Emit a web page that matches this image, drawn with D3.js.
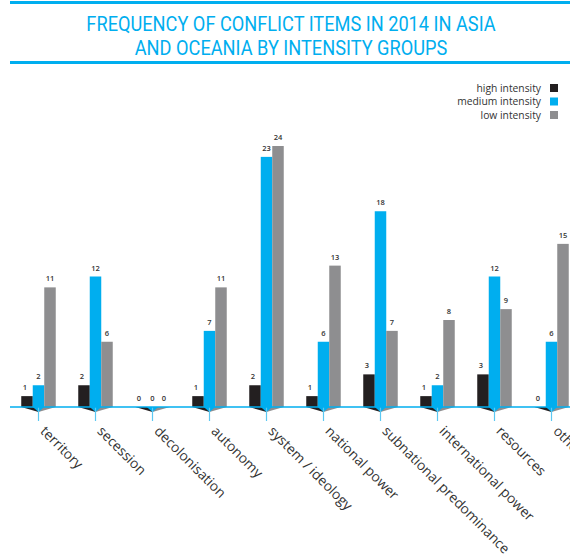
<!DOCTYPE html>
<html>
<head>
<meta charset="utf-8">
<script src="https://cdn.jsdelivr.net/npm/d3@7"></script>
<style>
  html, body { margin: 0; padding: 0; background: #fff; }
  svg { display: block; }
</style>
</head>
<body>
<svg id="chart" width="570" height="557"></svg>
<script>
// Conflict items in Asia and Oceania, 2014, by intensity group
const categories = ["territory", "secession", "decolonisation", "autonomy", "system / ideology",
  "national power", "subnational predominance", "international power", "resources", "others"];
const highIntensity   = [1, 2, 0, 1, 2, 1, 3, 1, 3, 0];
const mediumIntensity = [2, 12, 0, 7, 23, 6, 18, 2, 12, 6];
const lowIntensity    = [11, 6, 0, 11, 24, 13, 7, 8, 9, 15];
const seriesNames = ["high intensity", "medium intensity", "low intensity"];
const seriesColors = ["#231f20", "#00aeef", "#8e8e90"];
const titleLines = ["FREQUENCY OF CONFLICT ITEMS IN 2014 IN ASIA", "AND OCEANIA BY INTENSITY GROUPS"];

const series = [highIntensity, mediumIntensity, lowIntensity];
const svg = d3.select("#chart");
const blue = "#00aeef";

// Title block with rules above and below
svg.append("rect").attr("x", 10).attr("y", 1).attr("width", 560).attr("height", 3).attr("fill", blue);
svg.append("rect").attr("x", 10).attr("y", 61).attr("width", 560).attr("height", 3).attr("fill", blue);
svg.selectAll("text.title").data(titleLines).join("text")
  .attr("class", "title")
  .attr("transform", (d, i) => `translate(291,${31 + i * 24}) scale(0.91,1)`)
  .attr("text-anchor", "middle")
  .attr("font-family", "Roboto, 'Open Sans', sans-serif")
  .attr("font-size", 20)
  .attr("fill", blue)
  .text(d => d);

// Scales
const baseY = 407;
const x = d3.scaleBand().domain(categories).range([10, 580]).paddingInner(0).paddingOuter(0);
const xs = d3.scaleBand().domain(d3.range(3)).range([0, 34.5]);
const y = d3.scaleLinear().domain([0, 24]).range([baseY, 146]);

const groupOffset = (x.bandwidth() - xs.range()[1]) / 2;
const groups = svg.selectAll("g.grp").data(categories).join("g")
  .attr("class", "grp")
  .attr("transform", d => `translate(${x(d) + groupOffset},0)`);

// Baseline
svg.append("line").attr("x1", 10).attr("x2", 570).attr("y1", baseY).attr("y2", baseY)
  .attr("stroke", blue).attr("stroke-width", 1.5);

// Perspective wedges beneath each group
groups.each(function(d, gi) {
  const g = d3.select(this);
  const x0 = xs(0), xc = xs(1) + xs.bandwidth() / 2, x2 = xs(2) + xs.bandwidth();
  g.append("path").attr("d", `M${x0},${baseY}L${xc},${baseY + 5}L${xc},${baseY}Z`).attr("fill", seriesColors[0]);
  g.append("path").attr("d", `M${x2},${baseY}L${xc},${baseY + 5}L${xc},${baseY}Z`).attr("fill", seriesColors[2]);
  g.append("path").attr("d", `M${xs(1)},${baseY}L${xs(1) + xs.bandwidth()},${baseY}L${xc},${baseY + 5}Z`).attr("fill", seriesColors[1]);
  g.append("line").attr("x1", xc).attr("x2", xc).attr("y1", baseY).attr("y2", baseY + 14)
    .attr("stroke", "#5cc8f2").attr("stroke-width", 1.2);
});

// Bars and value labels
groups.each(function(cat, gi) {
  const g = d3.select(this);
  series.forEach((vals, si) => {
    const v = vals[gi];
    g.append("rect")
      .attr("x", xs(si)).attr("width", xs.bandwidth())
      .attr("y", y(v)).attr("height", baseY - y(v))
      .attr("fill", seriesColors[si]);
    g.append("text")
      .attr("x", xs(si) + xs.bandwidth() / 2 - (si === 0 ? 2 : 0))
      .attr("y", y(v) - 6)
      .attr("text-anchor", "middle")
      .attr("font-family", "'Open Sans', sans-serif")
      .attr("font-size", 7.5)
      .attr("font-weight", 600)
      .attr("fill", "#333")
      .text(v);
  });
});

// Rotated category labels
groups.append("text")
  .attr("transform", `translate(${xs(1) + xs.bandwidth() / 2 + 1},${baseY + 25}) rotate(45)`)
  .attr("font-family", "'Open Sans', sans-serif")
  .attr("font-size", 13.8)
  .attr("fill", "#333")
  .text(d => d);

// Legend
const legend = svg.append("g").selectAll("g").data(seriesNames).join("g")
  .attr("transform", (d, i) => `translate(0,${88 + i * 13.5})`);
legend.append("text")
  .attr("x", 541).attr("y", 3.5)
  .attr("text-anchor", "end")
  .attr("font-family", "'Open Sans', sans-serif")
  .attr("font-size", 10.3)
  .attr("fill", "#333")
  .text(d => d);
legend.append("rect")
  .attr("x", 550).attr("y", -4).attr("width", 8).attr("height", 8)
  .attr("fill", (d, i) => seriesColors[i]);
</script>
</body>
</html>
